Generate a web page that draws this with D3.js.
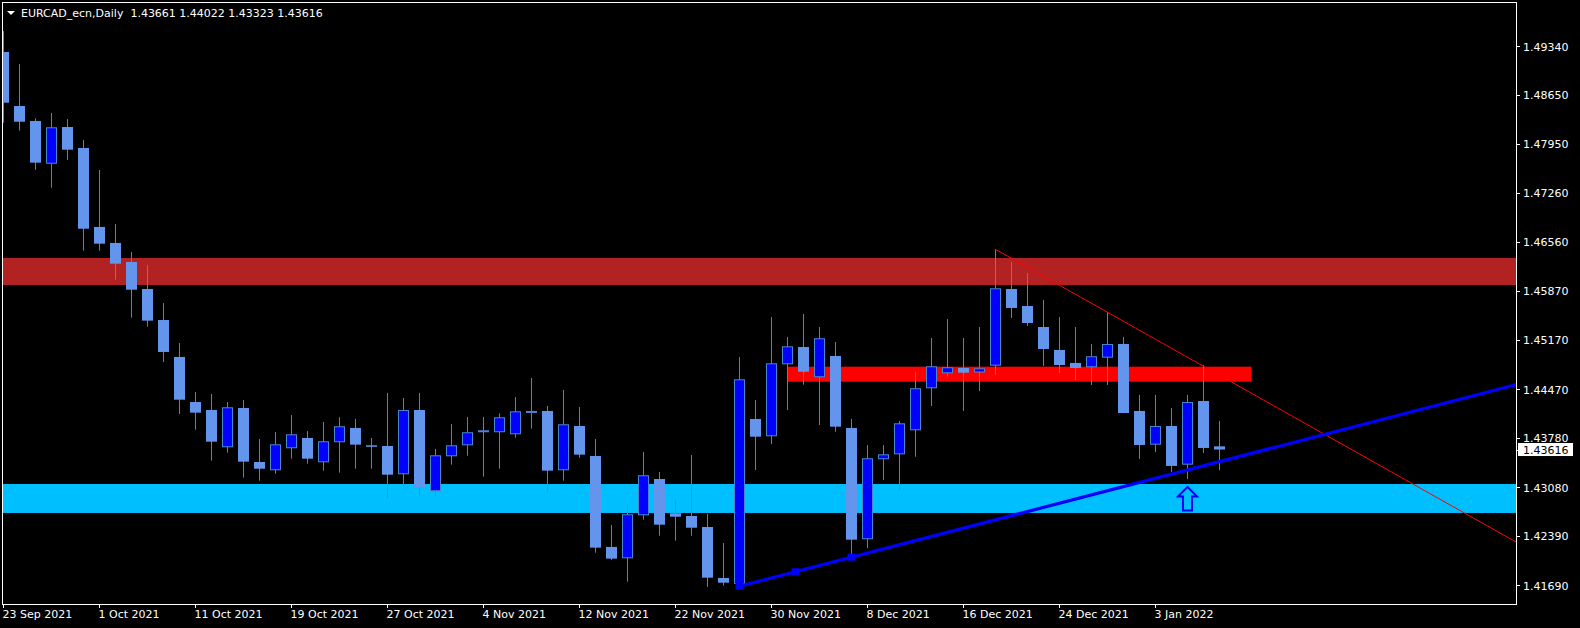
<!DOCTYPE html>
<html><head><meta charset="utf-8">
<script src="https://cdn.jsdelivr.net/npm/d3@7"></script>
<style>html,body{margin:0;padding:0;background:#000;overflow:hidden}</style>
</head><body><svg id="c" width="1580" height="628"></svg>
<script>
// ---------- data ----------
const titleText = "EURCAD_ecn,Daily  1.43661 1.44022 1.43323 1.43616";
const opens = [1.49255,1.48489,1.48276,1.47670,1.48191,1.47893,1.46773,1.46546,1.46276,1.45893,
  1.45453,1.44929,1.44290,1.44177,1.43648,1.44205,1.43439,1.43322,1.43634,1.43780,
  1.43435,1.43719,1.43922,1.43676,1.43666,1.43265,1.44177,1.43024,1.43520,1.43676,
  1.43861,1.43861,1.43832,1.44139,1.44163,1.43322,1.43950,1.43524,1.42234,1.42073,
  1.42683,1.43198,1.42712,1.42673,1.42517,1.41794,1.41709,1.44049,1.43804,1.44825,
  1.45070,1.44641,1.44943,1.43922,1.42343,1.43478,1.43548,1.43889,1.44485,1.44697,
  1.44773,1.44709,1.44805,1.45893,1.45652,1.45354,1.45028,1.44844,1.44783,1.44919,
  1.45113,1.44163,1.43685,1.43950,1.43401,1.44304,1.43661];
const highs = [1.49553,1.49085,1.48314,1.48390,1.48305,1.48007,1.47581,1.46815,1.46418,1.46234,
  1.45695,1.45127,1.44432,1.44404,1.44290,1.44319,1.43766,1.43865,1.44106,1.43879,
  1.44007,1.44073,1.44049,1.43780,1.44418,1.44347,1.44418,1.43624,1.43978,1.44078,
  1.44078,1.44130,1.44361,1.44631,1.44234,1.44461,1.44219,1.43766,1.42546,1.42844,
  1.43581,1.43297,1.42900,1.43539,1.42702,1.42290,1.44929,1.44319,1.45496,1.45212,
  1.45539,1.45354,1.45141,1.44049,1.43680,1.43680,1.44021,1.44716,1.45198,1.45468,
  1.45198,1.45354,1.46456,1.46276,1.46120,1.45737,1.45496,1.45354,1.45113,1.45567,
  1.45212,1.44390,1.44390,1.44205,1.44390,1.44815,1.44022];
const lows = [1.48252,1.48139,1.47585,1.47330,1.47723,1.46436,1.46436,1.46025,1.45486,1.45358,
  1.44858,1.44120,1.43897,1.43458,1.43571,1.43217,1.43174,1.43273,1.43486,1.43415,
  1.43316,1.43288,1.43344,1.43344,1.42924,1.43080,1.42947,1.42947,1.43401,1.43529,
  1.43231,1.43344,1.43784,1.43912,1.43024,1.43174,1.43500,1.42153,1.42049,1.41741,
  1.42621,1.42394,1.42323,1.42394,1.41666,1.41685,1.41652,1.43326,1.43695,1.44177,
  1.44536,1.43964,1.43869,1.42096,1.42219,1.43184,1.43042,1.43514,1.44234,1.44649,
  1.44163,1.44446,1.44673,1.45482,1.45368,1.44801,1.44702,1.44602,1.44531,1.44531,
  1.44130,1.43482,1.43581,1.43297,1.43198,1.43567,1.43323];
const closes = [1.48536,1.48266,1.47685,1.48187,1.47869,1.46748,1.46536,1.46252,1.45883,1.45444,
  1.45000,1.44323,1.44139,1.43727,1.44215,1.43444,1.43344,1.43690,1.43832,1.43486,
  1.43733,1.43946,1.43685,1.43656,1.43259,1.44177,1.43080,1.43534,1.43676,1.43861,
  1.43889,1.44073,1.44158,1.44163,1.43316,1.43974,1.43543,1.42224,1.42068,1.42697,
  1.43251,1.42550,1.42663,1.42507,1.41798,1.41727,1.44612,1.43798,1.44839,1.45080,
  1.44720,1.45194,1.43940,1.42337,1.43492,1.43548,1.43988,1.44485,1.44797,1.44783,
  1.44706,1.44768,1.45903,1.45624,1.45411,1.45042,1.44815,1.44773,1.44939,1.45113,
  1.44134,1.43680,1.43950,1.43383,1.44290,1.43638,1.43616];
const dateLabels = ["23 Sep 2021","1 Oct 2021","11 Oct 2021","19 Oct 2021","27 Oct 2021","4 Nov 2021",
  "12 Nov 2021","22 Nov 2021","30 Nov 2021","8 Dec 2021","16 Dec 2021","24 Dec 2021","3 Jan 2022"];
const dateLabelBars = [0,6,12,18,24,30,36,42,48,54,60,66,72];
const priceTicks = [1.49340,1.48650,1.47950,1.47260,1.46560,1.45870,1.45170,1.44470,1.43780,1.43080,1.42390,1.41690];
const lastPrice = 1.43616;
const resistanceZone = [1.46333, 1.45950];
const supportZone = [1.43127, 1.42716];
const redZonePrices = [1.44791, 1.44578];
const redZoneBars = [49, 78];
const upTrendPoints = [[46, 1.41676], [74, 1.43326]];
const upTrendMarks = [46, 49.5, 53];
const downTrendPoints = [[62, 1.46456], [75, 1.44797]];
const arrowPoint = [74, 1.43099];

// ---------- layout ----------
const W = 1580, H = 628;
const plotL = 3, plotR = 1516, plotT = 3, plotB = 604;
const bullFill = "#0000FF", bearFill = "#6495ED", wickColor = "#4a86d0";
const font = "DejaVu Sans";

const svg = d3.select("#c");
svg.append("rect").attr("width", W).attr("height", H).attr("fill", "#000");

const x = d3.scaleLinear().domain([0, 1]).range([3.5, 19.5]);
const y = d3.scaleLinear().domain([1.49340, 1.41690]).range([46, 585.3]);

svg.append("defs").append("clipPath").attr("id", "plot")
  .append("rect").attr("x", plotL).attr("y", plotT).attr("width", plotR - plotL).attr("height", plotB - plotT);

const g = svg.append("g").attr("clip-path", "url(#plot)");

// zones
g.append("rect").attr("x", plotL).attr("width", plotR - plotL)
  .attr("y", y(resistanceZone[0])).attr("height", y(resistanceZone[1]) - y(resistanceZone[0]))
  .attr("fill", "#B22222");
g.append("rect").attr("x", plotL).attr("width", plotR - plotL)
  .attr("y", y(supportZone[0])).attr("height", y(supportZone[1]) - y(supportZone[0]))
  .attr("fill", "#00BFFF");
g.append("rect").attr("x", x(redZoneBars[0])).attr("width", x(redZoneBars[1]) - x(redZoneBars[0]))
  .attr("y", y(redZonePrices[0])).attr("height", y(redZonePrices[1]) - y(redZonePrices[0]))
  .attr("fill", "#FF0000");

// candles
const candles = opens.map((o, i) => ({i, o, h: highs[i], l: lows[i], c: closes[i]}));
const cg = g.append("g");
cg.selectAll("line.wick").data(candles).join("line").attr("class", "wick")
  .attr("x1", d => x(d.i)).attr("x2", d => x(d.i))
  .attr("y1", d => y(d.h)).attr("y2", d => y(d.l))
  .attr("stroke", wickColor).attr("stroke-width", 1);
cg.selectAll("rect.body").data(candles).join("rect").attr("class", "body")
  .each(function(d) {
    const bull = d.c >= d.o;
    const top = y(Math.max(d.o, d.c)), bot = y(Math.min(d.o, d.c));
    const s = d3.select(this);
    if (bull) {
      s.attr("x", x(d.i) - 5).attr("width", 10).attr("y", top + 0.5)
       .attr("height", Math.max(bot - top - 1, 1)).attr("fill", bullFill)
       .attr("stroke", wickColor).attr("stroke-width", 1);
    } else {
      s.attr("x", x(d.i) - 5.5).attr("width", 11).attr("y", top)
       .attr("height", Math.max(bot - top, 1.5)).attr("fill", bearFill);
    }
  });

// trend lines (rays to the right edge)
function ray(pts, endBar) {
  const [a, b] = pts;
  const slope = (b[1] - a[1]) / (b[0] - a[0]);
  return [[x(a[0]), y(a[1])], [x(endBar), y(a[1] + slope * (endBar - a[0]))]];
}
const endBar = x.invert(plotR + 5);
const dn = ray(downTrendPoints, endBar);
g.append("line").attr("x1", dn[0][0]).attr("y1", dn[0][1]).attr("x2", dn[1][0]).attr("y2", dn[1][1])
  .attr("stroke", "#FF0000").attr("stroke-width", 1);
const up = ray(upTrendPoints, endBar);
g.append("line").attr("x1", up[0][0]).attr("y1", up[0][1]).attr("x2", up[1][0]).attr("y2", up[1][1])
  .attr("stroke", "#0000FF").attr("stroke-width", 3.2);
const upSlope = (upTrendPoints[1][1] - upTrendPoints[0][1]) / (upTrendPoints[1][0] - upTrendPoints[0][0]);
g.selectAll("rect.mk").data(upTrendMarks).join("rect").attr("class", "mk")
  .attr("x", d => x(d) - 4).attr("y", d => y(upTrendPoints[0][1] + upSlope * (d - upTrendPoints[0][0])) - 3.5)
  .attr("width", 8).attr("height", 7).attr("fill", "#0000FF");

// arrow
const ax = x(arrowPoint[0]), ay = y(arrowPoint[1]);
const arrowPath = d3.path();
arrowPath.moveTo(ax, ay + 1);
arrowPath.lineTo(ax + 9.5, ay + 10.5);
arrowPath.lineTo(ax + 4.5, ay + 10.5);
arrowPath.lineTo(ax + 4.5, ay + 24.5);
arrowPath.lineTo(ax - 4.5, ay + 24.5);
arrowPath.lineTo(ax - 4.5, ay + 10.5);
arrowPath.lineTo(ax - 9.5, ay + 10.5);
arrowPath.closePath();
g.append("path").attr("d", arrowPath.toString()).attr("fill", "none")
  .attr("stroke", "#0000FF").attr("stroke-width", 2);

// frame
svg.append("rect").attr("x", 2.5).attr("y", 2.5).attr("width", plotR - 2).attr("height", plotB - 2)
  .attr("fill", "none").attr("stroke", "#fff").attr("stroke-width", 1);

// right axis
const ra = svg.append("g");
ra.selectAll("line").data(priceTicks).join("line")
  .attr("x1", plotR + 1).attr("x2", plotR + 4)
  .attr("y1", d => Math.round(y(d)) + 0.5).attr("y2", d => Math.round(y(d)) + 0.5)
  .attr("stroke", "#fff");
ra.selectAll("text").data(priceTicks).join("text")
  .attr("x", plotR + 7).attr("y", d => y(d) + 4.5)
  .attr("fill", "#fff").attr("font-family", font).attr("font-size", 11)
  .text(d => d.toFixed(5));

// last price label
const ly = y(lastPrice);
svg.append("line").attr("x1", plotR + 1).attr("x2", plotR + 4)
  .attr("y1", Math.round(ly) + 0.5).attr("y2", Math.round(ly) + 0.5).attr("stroke", "#fff");
svg.append("rect").attr("x", plotR + 2).attr("y", ly - 6.5).attr("width", 55).attr("height", 13).attr("fill", "#fff");
svg.append("text").attr("x", plotR + 7).attr("y", ly + 4.5)
  .attr("fill", "#000").attr("font-family", font).attr("font-size", 11).text(lastPrice.toFixed(5));

// bottom axis
const ba = svg.append("g");
ba.selectAll("line").data(dateLabelBars).join("line")
  .attr("x1", d => Math.floor(x(d)) + 0.5).attr("x2", d => Math.floor(x(d)) + 0.5)
  .attr("y1", plotB).attr("y2", plotB + 4).attr("stroke", "#fff");
ba.selectAll("text").data(dateLabelBars).join("text")
  .attr("x", d => x(d) - 1).attr("y", 618)
  .attr("fill", "#fff").attr("font-family", font).attr("font-size", 11)
  .text((d, i) => dateLabels[i]);

// title
svg.append("path").attr("d", "M7,11 L15,11 L11,15 Z").attr("fill", "#fff");
svg.append("text").attr("x", 21).attr("y", 17).attr("fill", "#fff")
  .attr("font-family", font).attr("font-size", 11).attr("xml:space", "preserve")
  .style("white-space", "pre").text(titleText);
</script></body></html>
